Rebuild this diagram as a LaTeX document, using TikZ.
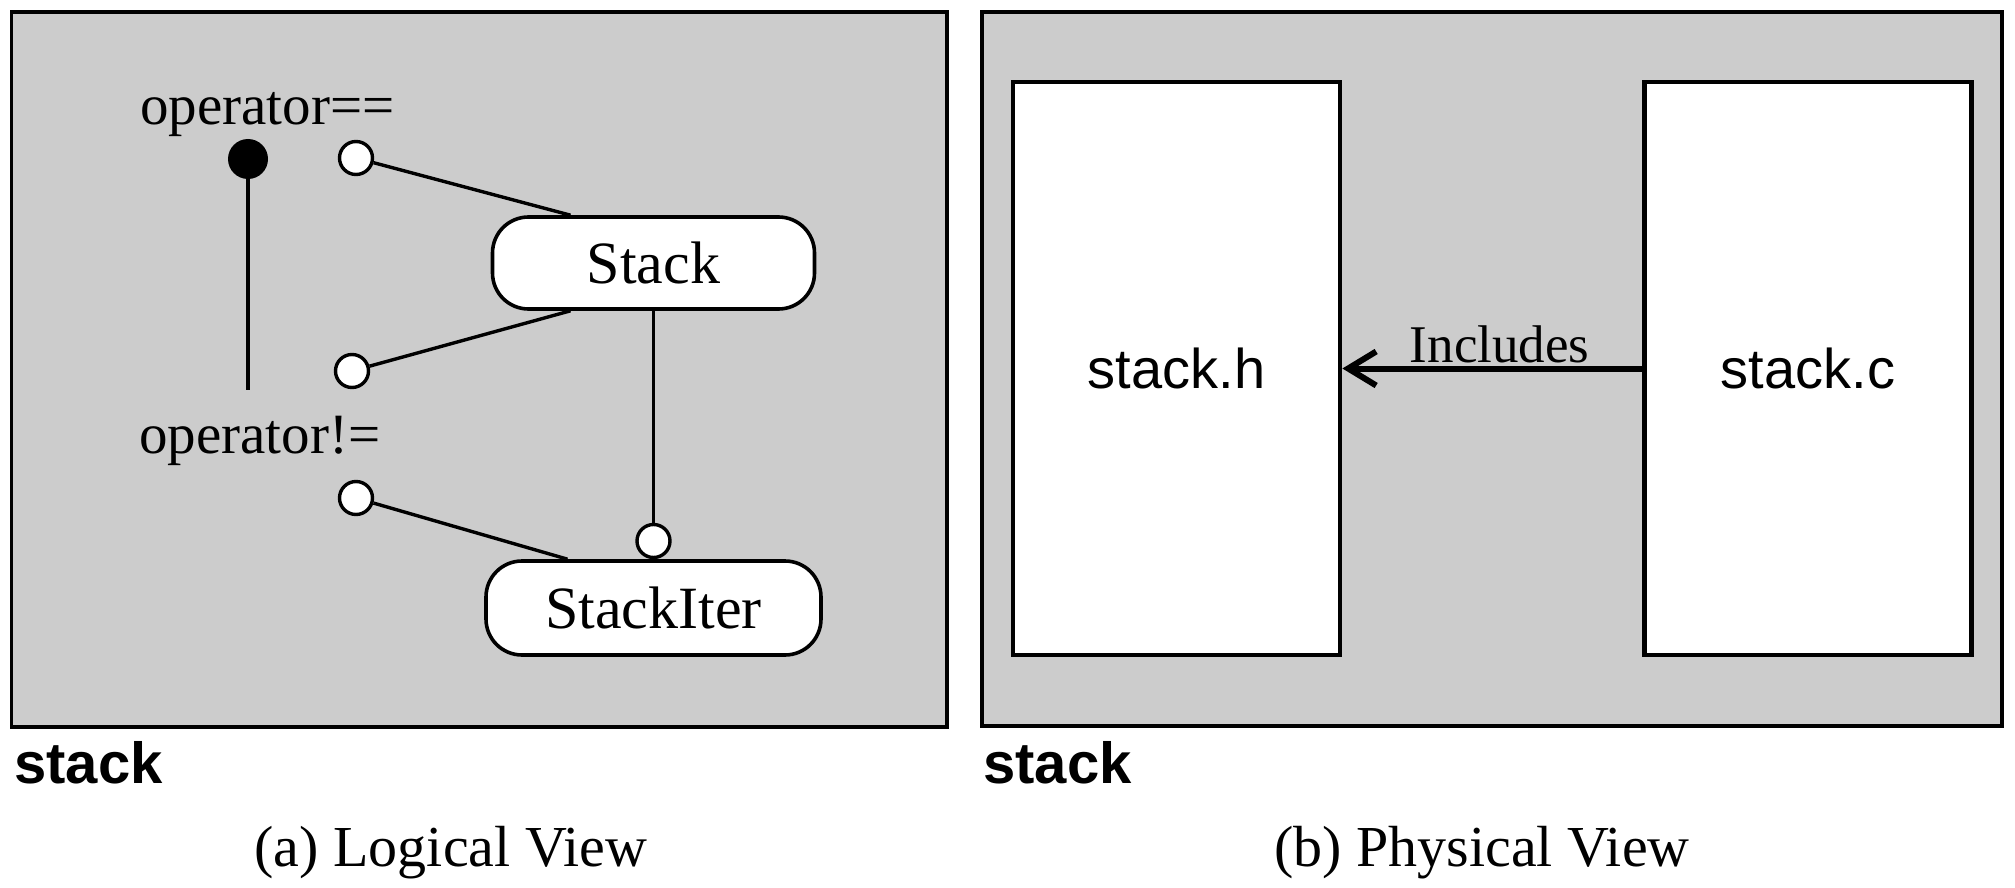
\documentclass[tikz,border=0pt]{standalone}
\usepackage{fontspec}
\setmainfont{Liberation Serif}
\setsansfont{Liberation Sans}
\usetikzlibrary{arrows.meta,calc}
\begin{document}
\begin{tikzpicture}[x=0.5pt,y=-0.5pt,
  panel/.style={draw=black, line width=1.8pt, fill=black!20},
  pill/.style={draw, line width=1.8pt, fill=white, rounded corners=18pt,
    inner sep=0pt, font=\fontsize{30}{32}\selectfont},
  opencirc/.style={circle, draw, line width=1.7pt, fill=white,
    minimum size=16.5pt, inner sep=0pt},
  fullcirc/.style={circle, fill=black, minimum size=20pt, inner sep=0pt},
  conn/.style={line width=1.7pt},
  optext/.style={anchor=base west, inner sep=0pt, font=\fontsize{28.5}{30}\selectfont},
  filebox/.style={draw, line width=2.4pt, fill=white, minimum width=163.5pt,
    minimum height=286.5pt, inner sep=0pt, font=\sffamily\fontsize{28}{30}\selectfont},
  pkglabel/.style={anchor=base west, inner sep=0pt, font=\sffamily\bfseries\fontsize{29}{31}\selectfont},
  caption/.style={anchor=base, inner sep=0pt, font=\fontsize{29}{31}\selectfont},
  incl/.style={line width=3pt, -{Straight Barb[length=14pt,width=17pt]}}
]
\useasboundingbox (0,0) rectangle (2015,888);

% ---------- (a) Logical view ----------
\draw[panel] (11.5,12) rectangle (947,727);

\node[optext] (opeq) at (140,125) {operator==};
\node[optext] (opne) at (139,453) {operator!=};

\node[pill, minimum width=161pt, minimum height=46pt] (stack) at (653.5,263) {Stack};
\node[pill, minimum width=167.5pt, minimum height=47pt] (iter) at (653.5,608) {StackIter};

\node[fullcirc] (F) at (248,159) {};
\coordinate (Fend) at (248,390);
\node[opencirc] (A) at (356,158) {};
\node[opencirc] (B) at (352,371) {};
\node[opencirc] (C) at (356,498) {};
\node[opencirc, anchor=south] (D) at (iter.north) {};

\draw[conn] (F) -- (Fend);
\draw[conn] (A) -- ($(stack.north)+(-83,0)$);
\draw[conn] (B) -- ($(stack.south)+(-83,0)$);
\draw[conn] (C) -- ($(iter.north)+(-86,0)$);
\draw[conn] (stack) -- (D);

\node[pkglabel] (pkga) at (14,783) {stack};
\node[caption] (capa) at (451,866) {(a) Logical View};

% ---------- (b) Physical view ----------
\draw[panel] (982,12) rectangle (2002,726);

\node[filebox] (h) at (1176.5,368.5) {stack.h};
\node[filebox] (c) at (1808,368.5) {stack.c};

\draw[incl] (c.west) -- (h.east)
  node[pos=0.475, anchor=base, yshift=3pt, inner sep=0pt, font=\fontsize{26.5}{28}\selectfont] {Includes};

\node[pkglabel] (pkgb) at (983,783) {stack};
\node[caption] (capb) at (1482,866) {(b) Physical View};
\end{tikzpicture}
\end{document}
